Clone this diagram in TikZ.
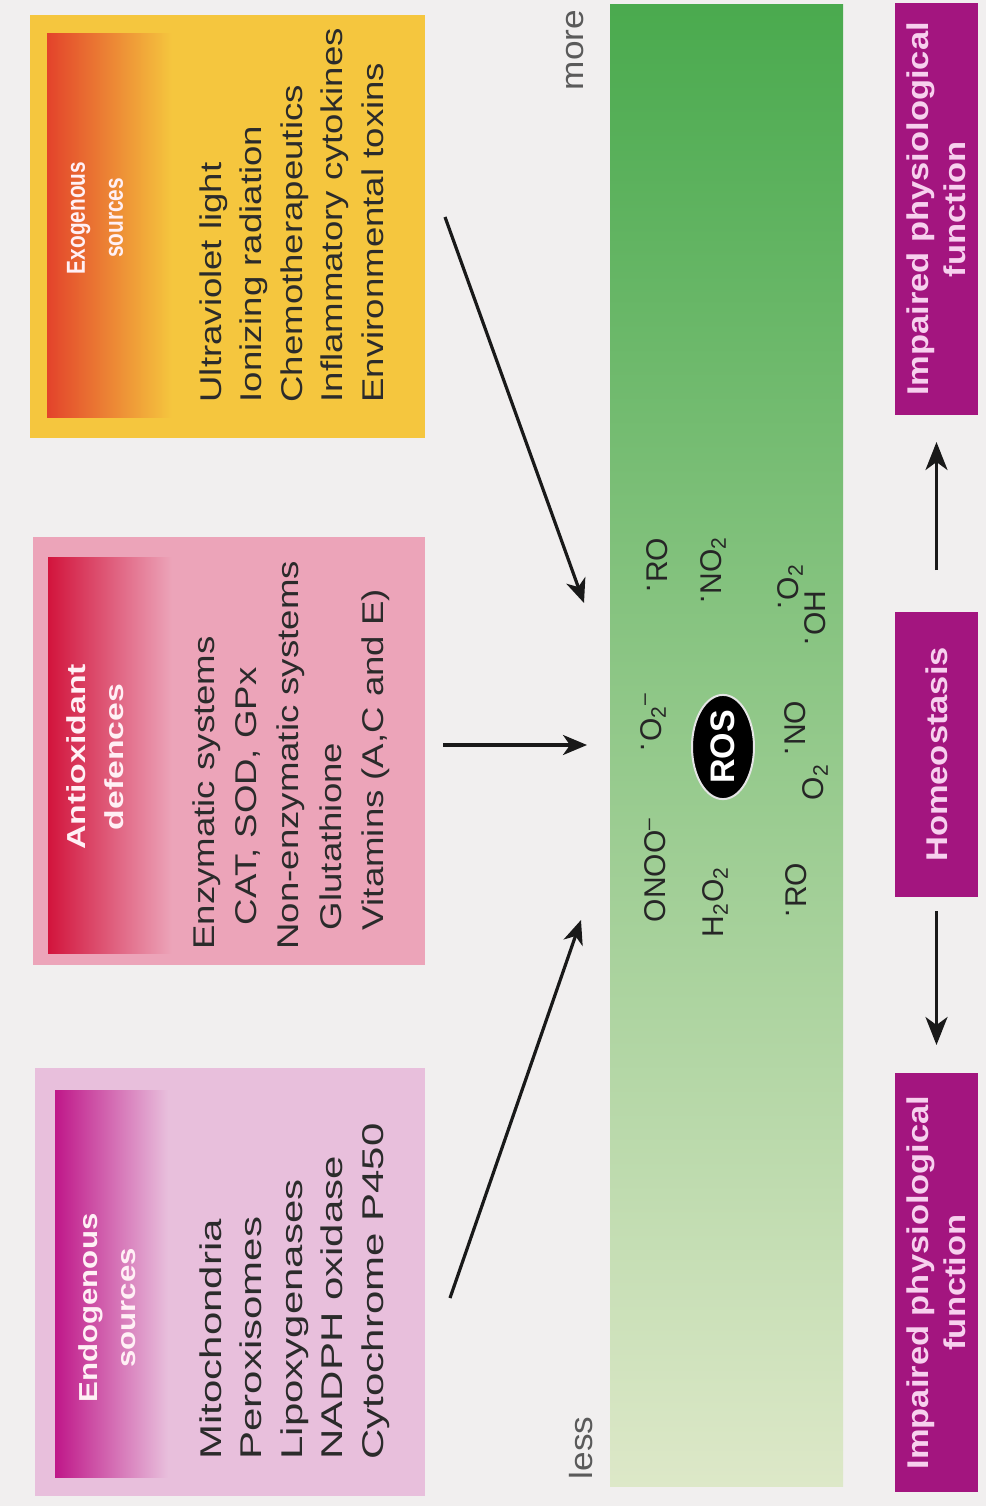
\documentclass[tikz,border=0pt]{standalone}
\usepackage{fontspec}
\setmainfont{Liberation Sans}
\usetikzlibrary{arrows.meta,fit,shapes.geometric}
\definecolor{bg}{HTML}{F1EFEF}
\definecolor{exoC}{HTML}{F5C63E}
\definecolor{exoH}{HTML}{E3432B}
\definecolor{exoM}{HTML}{EE8B30}
\definecolor{antC}{HTML}{ECA4B9}
\definecolor{antH}{HTML}{D2143C}
\definecolor{antM}{HTML}{E0607E}
\definecolor{endC}{HTML}{E8BFDC}
\definecolor{endH}{HTML}{BF1789}
\definecolor{endM}{HTML}{D672B4}
\definecolor{bodyC}{HTML}{2B2B2B}
\definecolor{hdrT}{HTML}{FFF0F5}
\definecolor{magC}{HTML}{A3157F}
\definecolor{magT}{HTML}{F7D0EE}
\definecolor{gTop}{HTML}{4AAA4E}
\definecolor{gMid}{HTML}{8FCA78}
\definecolor{gBot}{HTML}{DDE8C8}
\definecolor{lblC}{HTML}{5A5A5A}
\newcommand{\rdot}{\raisebox{0.55em}{.}\kern0.04em}
\begin{document}
\begin{tikzpicture}[x=0.5pt,y=-0.5pt,
  area/.style={inner sep=0pt, outer sep=0pt},
  hdr/.style={rotate=90, inner sep=0pt, align=center, text=hdrT,
    font=\bfseries\fontsize{13}{19}\selectfont},
  body/.style={rotate=90, inner sep=0pt, align=left, text=bodyC, anchor=north west},
  chem/.style={rotate=90, inner sep=0pt, text=black!85, font=\fontsize{15}{18}\selectfont},
  btxt/.style={rotate=90, inner sep=0pt, align=center, text=magT, xscale=1.15,
    font=\bfseries\fontsize{15}{18.5}\selectfont},
  lbl/.style={rotate=90, inner sep=0pt, text=lblC, xscale=1.1, font=\fontsize{16}{18}\selectfont},
  arr/.style={-{Stealth[length=12pt,width=10pt,inset=3.5pt]}, line width=1.6pt, draw=black!90},
  barr/.style={-{Stealth[length=14pt,width=11pt,inset=4pt]}, line width=1.6pt, draw=black!90}
]
\useasboundingbox[fill=bg] (0,0) rectangle (986,1506);

% source boxes
\node[area, fit={(30,15)(425,438)}, fill=exoC] (exo) {};
\node[area, fit={(47,33)(172,417)}, left color=exoH, middle color=exoM, right color=exoC] (exoHead) {};
\node[area, fit={(33,537)(425,965)}, fill=antC] (ant) {};
\node[area, fit={(48,557)(172,953)}, left color=antH, middle color=antM, right color=antC] (antHead) {};
\node[area, fit={(35,1068)(425,1496)}, fill=endC] (endo) {};
\node[area, fit={(55,1090)(168,1477)}, left color=endH, middle color=endM, right color=endC] (endHead) {};

\node[hdr, xscale=0.8] (exoT) at (95,218) {Exogenous\\sources};
\node[hdr, xscale=1.3] (antT) at (95,757) {Antioxidant\\defences};
\node[hdr, xscale=1.2] (endT) at (107,1308) {Endogenous\\sources};

\node[body, xscale=1.22, font=\fontsize{15}{20.3}\selectfont] (exoB) at (199,403)
  {Ultraviolet light\\Ionizing radiation\\Chemotherapeutics\\Inflammatory cytokines\\Environmental toxins};
\node[body, xscale=1.22, font=\fontsize{15}{21.2}\selectfont] (antB) at (192,950)
  {Enzymatic systems\\\hspace*{10pt}CAT, SOD, GPx\\Non-enzymatic systems\\\hspace*{8pt}Glutathione\\\hspace*{8pt}Vitamins (A,C and E)};
\node[body, xscale=1.4, font=\fontsize{15}{20.3}\selectfont] (endB) at (199,1460)
  {Mitochondria\\Peroxisomes\\Lipoxygenases\\NADPH oxidase\\Cytochrome P450};

% green bar
\node[area, fit={(610,4)(843,1486)}, top color=gTop, middle color=gMid, bottom color=gBot] (bar) {};
\node[lbl] (more) at (575,50) {more};
\node[lbl] (less) at (581,1448) {less};

% species
\node[chem] (ro1) at (657,565) {\rdot RO};
\node[chem] (no2) at (713,570) {\rdot NO\textsubscript{2}};
\node[chem] (o2a) at (790,587) {\rdot O\textsubscript{2}};
\node[chem] (oh) at (815,618) {\rdot OH};
\node[chem] (o2m) at (653,722) {\rdot O\textsubscript{2}\textsuperscript{--}};
\node[chem] (no) at (795,728) {\rdot NO};
\node[chem] (o2b) at (815,782) {O\textsubscript{2}};
\node[chem] (onoo) at (655,870) {ONOO\textsuperscript{--}};
\node[chem] (h2o2) at (715,902) {H\textsubscript{2}O\textsubscript{2}};
\node[chem] (ro2) at (796,890) {\rdot RO};
\node[ellipse, rotate=90, fill=black, draw=white!80!gray, line width=1pt,
  minimum width=50pt, minimum height=31pt, inner sep=0pt, text=white,
  font=\bfseries\fontsize{17}{20}\selectfont] (ros) at (723,747) {ROS};

% arrows into the bar
\coordinate (exoS) at (445,217);
\coordinate (exoE) at (584,603);
\coordinate (antS) at (443,745);
\coordinate (antE) at (587,745);
\coordinate (endS) at (450,1298);
\coordinate (endE) at (581,920);
\draw[arr] (exoS) -- (exoE);
\draw[arr] (antS) -- (antE);
\draw[arr] (endS) -- (endE);

% outcome boxes
\node[area, fit={(895,3)(978,415)}, fill=magC] (imp1) {};
\node[area, fit={(895,612)(978,897)}, fill=magC] (homeo) {};
\node[area, fit={(895,1073)(978,1492)}, fill=magC] (imp2) {};
\node[btxt] (imp1T) at (imp1.center) {Impaired physiological\\function};
\node[btxt] (homeoT) at (homeo.center) {Homeostasis};
\node[btxt] (imp2T) at (imp2.center) {Impaired physiological\\function};
\draw[barr, shorten <=21pt, shorten >=13.5pt] (homeo.north) -- (imp1.south);
\draw[barr, shorten <=7pt, shorten >=14pt] (homeo.south) -- (imp2.north);
\end{tikzpicture}
\end{document}
